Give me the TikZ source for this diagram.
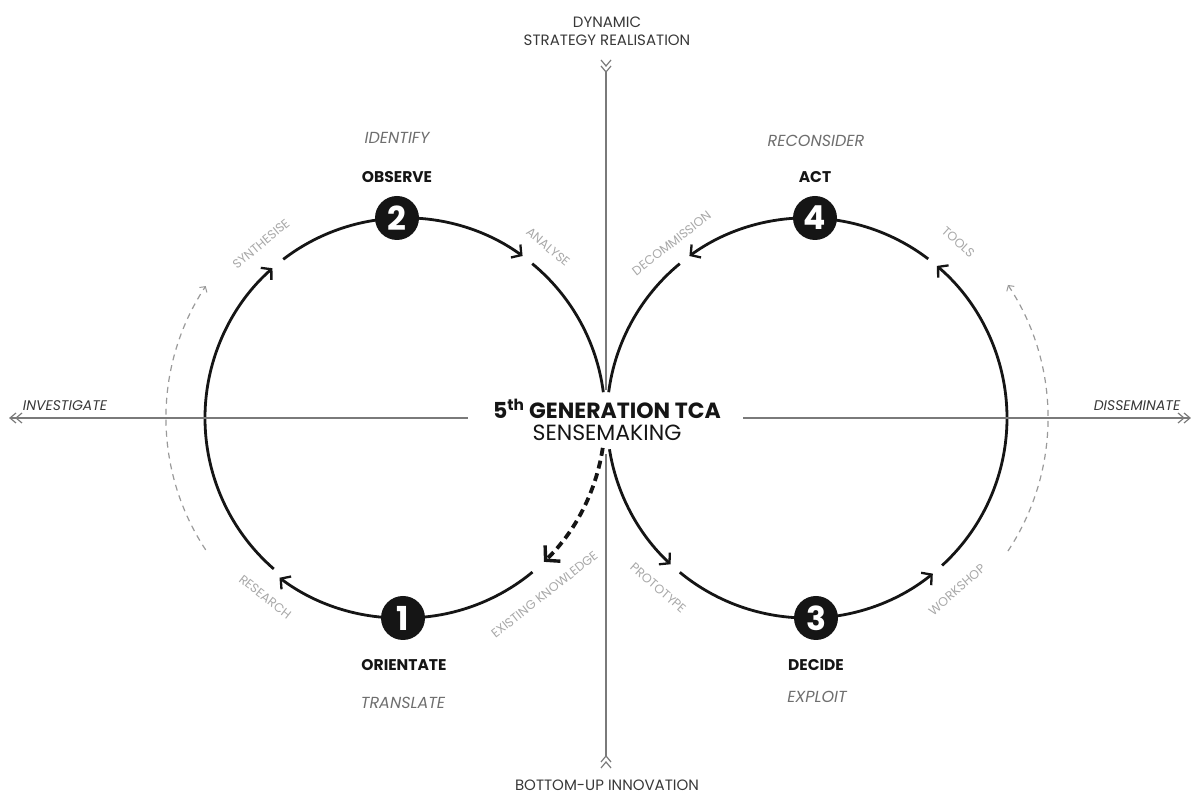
\documentclass[tikz,border=0pt]{standalone}
\usepackage{fontspec}
\setmainfont{Poppins}
\usetikzlibrary{arrows.meta,calc}
\definecolor{ink}{HTML}{151515}
\definecolor{axisgray}{HTML}{7a7a7a}
\definecolor{labgray}{HTML}{6e6e6e}
\definecolor{lightlab}{HTML}{a8a8a8}
\definecolor{dashgray}{HTML}{9a9a9a}
\pgfdeclarelayer{background}
\pgfsetlayers{background,main}
\begin{document}
\begin{tikzpicture}[x=1pt,y=1pt,
  ring/.style={line width=2.8pt, draw=ink},
  flow/.style={ring, -{Straight Barb[length=7pt,width=16pt,line width=2.3pt]}},
  dashflow/.style={line width=3.8pt, draw=ink, dash pattern=on 8pt off 5pt,
     -{Straight Barb[length=10pt,width=22pt,line width=3.4pt]}},
  guide/.style={line width=1.2pt, draw=dashgray, dash pattern=on 6pt off 5pt,
     -{Straight Barb[length=4pt,width=9pt,line width=1pt]}},
  axis/.style={line width=1.4pt, draw=axisgray},
  chev/.style={line width=1.2pt, draw=axisgray},
  marker/.style={circle, fill=ink, text=white, minimum size=44pt, inner sep=0pt,
     font=\bfseries\fontsize{33}{33}\selectfont},
  phase/.style={font=\bfseries\fontsize{15.5}{15.5}\selectfont, text=ink},
  verb/.style={font=\itshape\fontsize{16}{16}\selectfont, text=labgray},
  small/.style={font=\fontsize{12.5}{12.5}\selectfont, text=lightlab, inner sep=0pt},
  axlabel/.style={font=\fontsize{15}{18}\selectfont, text=ink!85, align=center},
  sidelabel/.style={font=\itshape\fontsize{14}{14}\selectfont, text=ink!85}
]
\useasboundingbox (0,0) rectangle (1196,794);

% centres
\coordinate (cL) at (405,376);
\coordinate (cR) at (807,376);

% axes
\coordinate (vTop) at (606,722);
\coordinate (vTopEnd) at (606,404);
\coordinate (vBotStart) at (606,340);
\coordinate (vBot) at (606,38);
\coordinate (hLeft) at (10,376);
\coordinate (hLeftEnd) at (468,376);
\coordinate (hRightStart) at (743,376);
\coordinate (hRight) at (1190,376);
\draw[axis] (vTop) -- (vTopEnd);
\draw[axis] (vBotStart) -- (vBot);
\draw[axis] (hLeft) -- (hLeftEnd);
\draw[axis] (hRightStart) -- (hRight);
% chevrons
\draw[chev] ($(vTop)+(-5,6)$) -- (vTop) -- ($(vTop)+(5,6)$);
\draw[chev] ($(vTop)+(-5,12)$) -- ($(vTop)+(0,6)$) -- ($(vTop)+(5,12)$);
\draw[chev] ($(vBot)+(-5,-6)$) -- (vBot) -- ($(vBot)+(5,-6)$);
\draw[chev] ($(vBot)+(-5,-12)$) -- ($(vBot)+(0,-6)$) -- ($(vBot)+(5,-12)$);
\draw[chev] ($(hLeft)+(6,5)$) -- (hLeft) -- ($(hLeft)+(6,-5)$);
\draw[chev] ($(hLeft)+(12,5)$) -- ($(hLeft)+(6,0)$) -- ($(hLeft)+(12,-5)$);
\draw[chev] ($(hRight)+(-6,5)$) -- (hRight) -- ($(hRight)+(-6,-5)$);
\draw[chev] ($(hRight)+(-12,5)$) -- ($(hRight)+(-6,0)$) -- ($(hRight)+(-12,-5)$);

% markers
\node[marker] (m2) at (397,576) {2};
\node[marker] (m1) at (403,176) {1};
\node[marker] (m4) at (815,576) {4};
\node[marker] (m3) at (816,176) {3};

\begin{pgfonlayer}{background}
% left circle (clockwise)
\draw[flow] (m1.center) arc[start angle=270.9, end angle=233, radius=200];
\draw[flow] ($(cL)+(229:200)$) arc[start angle=229, end angle=131.5, radius=200];
\draw[ring] ($(cL)+(127.5:200)$) arc[start angle=127.5, end angle=92.3, radius=200];
\draw[flow] (m2.center) arc[start angle=92.3, end angle=54, radius=200];
\draw[ring] ($(cL)+(50.5:200)$) arc[start angle=50.5, end angle=7.4, radius=200];
\draw[dashflow] ($(cL)+(-8.6:200)$) arc[start angle=-8.6, end angle=-46, radius=200];
\draw[ring] ($(cL)+(-50.4:200)$) arc[start angle=-50.4, end angle=-89.1, radius=200];
% right circle (counter-clockwise)
\draw[flow] ($(cR)+(189:200)$) arc[start angle=189, end angle=227, radius=200];
\draw[ring] ($(cR)+(230.5:200)$) arc[start angle=230.5, end angle=272.6, radius=200];
\draw[flow] (m3.center) arc[start angle=272.6, end angle=309, radius=200];
\draw[flow] ($(cR)+(312.5:200)$) arc[start angle=312.5, end angle=409.5, radius=200];
\draw[ring] ($(cR)+(412.7:200)$) arc[start angle=412.7, end angle=447.7, radius=200];
\draw[flow] (m4.center) arc[start angle=87.7, end angle=126, radius=200];
\draw[ring] ($(cR)+(129.5:200)$) arc[start angle=129.5, end angle=172.6, radius=200];
\end{pgfonlayer}

% outer dashed guides
\draw[guide] ($(cL)+(213.5:239)$) arc[start angle=213.5, end angle=146.5, radius=239];
\draw[guide] ($(cR)+(-33.5:241)$) arc[start angle=-33.5, end angle=33.5, radius=241];

% phase labels
\node[verb] (identify) at (397,656) {IDENTIFY};
\node[phase] (observe) at (397,617) {OBSERVE};
\node[verb] (reconsider) at (816,653) {RECONSIDER};
\node[phase] (act) at (815,617) {ACT};
\node[phase] (orientate) at (404,129) {ORIENTATE};
\node[verb] (translate) at (403,91) {TRANSLATE};
\node[phase] (decide) at (816,129) {DECIDE};
\node[verb] (exploit) at (817,97) {EXPLOIT};

% axis labels
\node[axlabel] (top) at (607,763) {DYNAMIC\\STRATEGY REALISATION};
\node[axlabel, inner sep=1pt] (bottom) at (607,9) {BOTTOM-UP INNOVATION};
\node[sidelabel] (investigate) at (65,388) {INVESTIGATE};
\node[sidelabel] (disseminate) at (1137,388) {DISSEMINATE};

% centre
\node[font=\bfseries\fontsize{22}{22}\selectfont, text=ink] (title) at (607,385) {5\textsuperscript{th} GENERATION TCA};
\node[font=\fontsize{22}{22}\selectfont, text=ink] (sub) at (607,361) {SENSEMAKING};

% small step labels
\node[small, rotate=39.6] (synth) at ($(cL)+(129.6:226)$) {SYNTHESISE};
\node[small, rotate=-40] (analyse) at ($(cL)+(50.1:223)$) {ANALYSE};
\node[small, rotate=-38] (research) at ($(cL)+(232:227)$) {RESEARCH};
\node[small, rotate=38.3] (exist) at ($(cL)+(-51.7:225)$) {EXISTING KNOWLEDGE};
\node[small, rotate=37.8] (decom) at ($(cR)+(127.8:221)$) {DECOMMISSION};
\node[small, rotate=-42] (tools) at ($(cR)+(49.3:232)$) {TOOLS};
\node[small, rotate=-41] (proto) at ($(cR)+(228.8:226)$) {PROTOTYPE};
\node[small, rotate=41] (workshop) at ($(cR)+(-48.9:228)$) {WORKSHOP};
\end{tikzpicture}
\end{document}
